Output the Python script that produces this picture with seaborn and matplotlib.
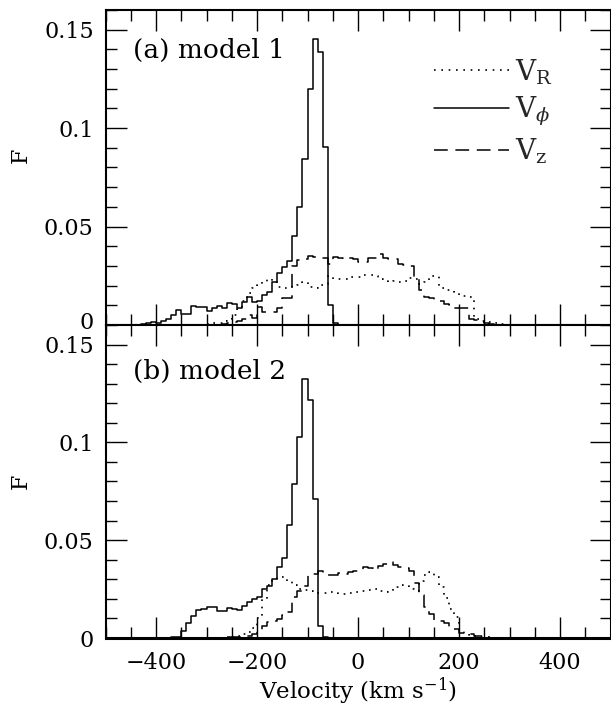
import numpy as np
import pandas as pd
import matplotlib
matplotlib.use("Agg")
import matplotlib.pyplot as plt
import matplotlib.transforms as mtransforms
from matplotlib.ticker import MultipleLocator
import seaborn as sns

# ---------------- data (bin width 10 km/s, values per bin) ----------------
bin_width = 10

# panel (a) model 1
a_phi_start = -440
a_phi = [0.0002, 0.0005, 0.0008, 0.0017, 0.0012, 0.002, 0.003, 0.005, 0.0076, 0.0054,
         0.0056, 0.0098, 0.0093, 0.009, 0.0071, 0.0085, 0.0098, 0.0085, 0.0113, 0.0105,
         0.0085, 0.0118, 0.014, 0.0118, 0.0122, 0.015, 0.017, 0.022, 0.0265, 0.0295,
         0.0325, 0.045, 0.0599, 0.0843, 0.12, 0.145, 0.1387, 0.0902, 0.0102, 0.0008, 0.0]

a_R_start = -300
a_R = [0.0003, 0.0008, 0.001, 0.002, 0.003, 0.005, 0.008, 0.012, 0.016, 0.019,
       0.0205, 0.022, 0.0235, 0.022, 0.0195, 0.019, 0.0195, 0.02, 0.0205, 0.022,
       0.0195, 0.019, 0.0205, 0.021, 0.025, 0.0235, 0.0234, 0.0235, 0.0244, 0.0244,
       0.0245, 0.0254, 0.0255, 0.025, 0.0235, 0.0225, 0.022, 0.0222, 0.022, 0.0225,
       0.024, 0.0235, 0.021, 0.022, 0.025, 0.025, 0.019, 0.018, 0.018, 0.0165,
       0.0145, 0.0145, 0.014, 0.003, 0.002, 0.002, 0.0015, 0.001, 0.0003, 0.0]

a_z_start = -280
a_z = [0.0002, 0.0005, 0.001, 0.0015, 0.002, 0.003, 0.005, 0.0035, 0.009, 0.0068,
       0.0068, 0.0068, 0.0085, 0.0136, 0.0136, 0.030, 0.033, 0.0335, 0.035, 0.0345,
       0.034, 0.034, 0.031, 0.0345, 0.034, 0.0335, 0.034, 0.0335, 0.032, 0.0322,
       0.034, 0.034, 0.036, 0.034, 0.0337, 0.0337, 0.031, 0.0305, 0.030, 0.024,
       0.018, 0.0144, 0.0136, 0.0125, 0.012, 0.0105, 0.0102, 0.0085, 0.0085, 0.0085,
       0.003, 0.0025, 0.0015, 0.0008, 0.0003, 0.0]

# panel (b) model 2
b_phi_start = -370
b_phi = [0.0003, 0.0007, 0.0036, 0.0075, 0.0113, 0.0143, 0.0148, 0.016, 0.016, 0.0138,
         0.0136, 0.0155, 0.0148, 0.0143, 0.0164, 0.0186, 0.020, 0.0211, 0.025, 0.0265,
         0.030, 0.0365, 0.041, 0.058, 0.0788, 0.1025, 0.1323, 0.1217, 0.071, 0.0063,
         0.0005, 0.0]

b_R_start = -250
b_R = [0.0005, 0.001, 0.002, 0.003, 0.005, 0.010, 0.020, 0.027, 0.030, 0.031,
       0.031, 0.029, 0.027, 0.025, 0.0245, 0.024, 0.0235, 0.023, 0.023, 0.0235,
       0.023, 0.0225, 0.0225, 0.023, 0.0235, 0.024, 0.0238, 0.0245, 0.025, 0.024,
       0.0235, 0.024, 0.026, 0.027, 0.0265, 0.025, 0.024, 0.029, 0.032, 0.0335,
       0.031, 0.026, 0.0205, 0.015, 0.0105, 0.004, 0.0025, 0.0015, 0.001, 0.0007,
       0.0005, 0.0003, 0.0]

b_z_start = -260
b_z = [0.0003, 0.0005, 0.0007, 0.001, 0.0012, 0.002, 0.0035, 0.006, 0.0083, 0.0085,
       0.0095, 0.0118, 0.0135, 0.021, 0.024, 0.0265, 0.032, 0.0325, 0.0345, 0.033,
       0.032, 0.032, 0.033, 0.0325, 0.0335, 0.0345, 0.0345, 0.0365, 0.036, 0.035,
       0.037, 0.038, 0.039, 0.0375, 0.0365, 0.036, 0.034, 0.028, 0.022, 0.016,
       0.0125, 0.0092, 0.0087, 0.0077, 0.005, 0.0045, 0.0025, 0.002, 0.0018, 0.001,
       0.0008, 0.0005, 0.0]

panel_labels = ["(a) model 1", "(b) model 2"]
series_labels = [r"V$_{\rm R}$", r"V$_\phi$", r"V$_{\rm z}$"]
x_ticks = [-400, -200, 0, 200, 400]
y_ticks = [0, 0.05, 0.1, 0.15]
y_ticklabels = ["0", "0.05", "0.1", "0.15"]

# ---------------- style ----------------
sns.set_theme(style="ticks")
plt.rcParams["font.family"] = ["DejaVu Serif"]
plt.rcParams["mathtext.fontset"] = "dejavuserif"
plt.rcParams["axes.unicode_minus"] = True

styles = {
    "R": dict(linestyle=(0, (1.0, 3.4)), linewidth=1.2),
    "phi": dict(linestyle="-", linewidth=1.1),
    "z": dict(linestyle=(0, (9, 5)), linewidth=1.1),
}

fig = plt.figure(figsize=(6.11, 7.06), dpi=100)
left, width = 0.1727, 0.8265
ax1 = fig.add_axes([left, 0.5397, width, 0.4462])
ax2 = fig.add_axes([left, 0.0963, width, 0.4434])


def draw(ax, start, vals, key, label):
    vals = list(vals)
    n = len(vals)
    centers = [start + bin_width * (k + 0.5) for k in range(n)]
    df = pd.DataFrame({"v": centers, "F": vals})
    sns.histplot(data=df, x="v", weights="F", binwidth=bin_width,
                 binrange=(start, start + bin_width * n), element="step",
                 fill=False, color="black", ax=ax, label=label, **styles[key])


panels = [
    (ax1, [(a_R_start, a_R, "R"), (a_phi_start, a_phi, "phi"), (a_z_start, a_z, "z")]),
    (ax2, [(b_R_start, b_R, "R"), (b_phi_start, b_phi, "phi"), (b_z_start, b_z, "z")]),
]

for i, (ax, series) in enumerate(panels):
    for (start, vals, key), lab in zip(series, series_labels):
        draw(ax, start, vals, key, lab)
    ax.set_xlim(-500, 500)
    ax.set_ylim(0, 0.16)
    ax.set_xticks(x_ticks)
    ax.set_yticks(y_ticks)
    ax.set_yticklabels(y_ticklabels)
    ax.xaxis.set_minor_locator(MultipleLocator(50))
    ax.yaxis.set_minor_locator(MultipleLocator(0.01))
    ax.tick_params(which="both", direction="in", top=True, right=True,
                   color="black", width=1.0, labelsize=16, labelcolor="black")
    ax.tick_params(which="major", length=15)
    ax.tick_params(which="minor", length=8)
    ax.tick_params(axis="y", which="major", pad=8.5)
    ax.tick_params(axis="x", which="major", pad=10)
    for s in ax.spines.values():
        s.set_linewidth(1.5)
        s.set_color("black")
    ax.spines["bottom"].set_linewidth(2.2)
    ax.set_ylabel("F", fontsize=16, color="black")
    ax.text(0.054, 0.872 if i == 0 else 0.852, panel_labels[i], transform=ax.transAxes,
            fontsize=19, ha="left", va="center", color="black")

# nudge the top panel's "0" label up slightly so it clears the lower panel's "0.15"
zero_lbl = ax1.get_yticklabels()[0]
zero_lbl.set_transform(zero_lbl.get_transform() +
                       mtransforms.ScaledTranslation(0, 3 / 72, fig.dpi_scale_trans))

ax1.yaxis.set_label_coords(-0.146, 0.54)
ax2.yaxis.set_label_coords(-0.146, 0.5)
ax1.set_xlabel("")
ax1.tick_params(labelbottom=False)
ax2.set_xlabel(r"Velocity (km s$^{-1}$)", fontsize=16.5, color="black", labelpad=1)

leg = ax1.legend(loc="upper left", bbox_to_anchor=(0.65, 0.85), frameon=False,
                 fontsize=20, handlelength=2.7, handletextpad=0.22,
                 labelspacing=0.3, borderpad=0, borderaxespad=0)

fig.savefig("out.png", dpi=100)
